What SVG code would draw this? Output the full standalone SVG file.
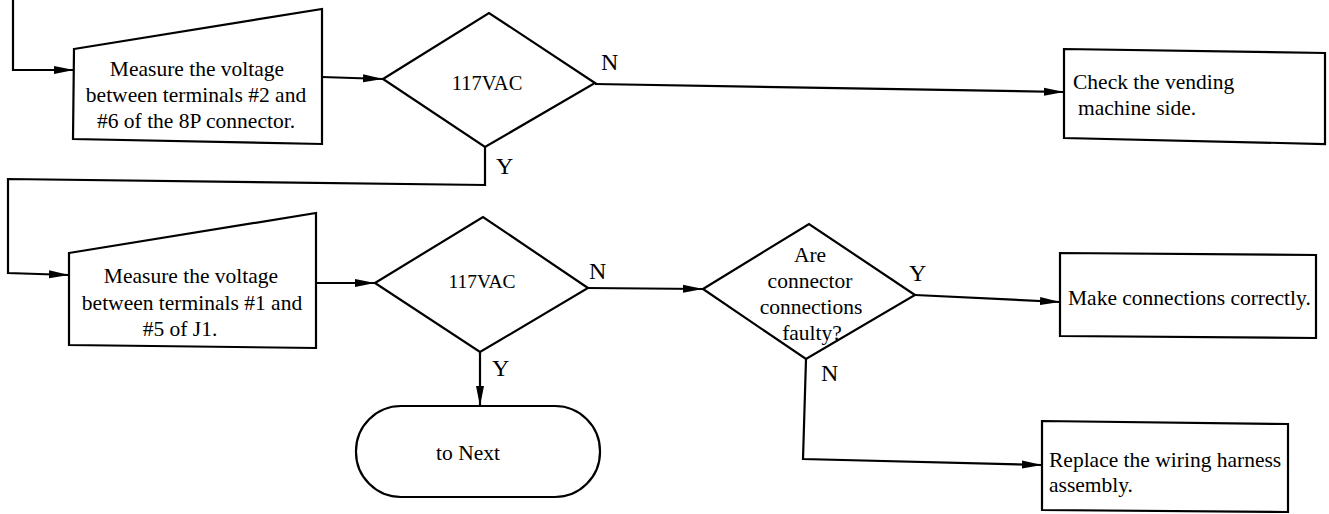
<svg xmlns="http://www.w3.org/2000/svg" width="1329" height="514" viewBox="0 0 1329 514">
<style>
.s{fill:#fff;stroke:#000;stroke-width:2.2}
.c{fill:none;stroke:#000;stroke-width:2.2}
text{font-family:"Liberation Serif","Times New Roman",serif;font-size:21.5px;fill:#000}
.m{text-anchor:middle}
.lb{font-size:24px}
</style>
<defs>
<marker id="ah" markerUnits="userSpaceOnUse" markerWidth="20" markerHeight="10" refX="20" refY="5" orient="auto">
<path d="M0,1 L20,5 L0,9 Z" fill="#000"/>
</marker>
</defs>
<g id="connectors">
<polyline class="c" points="13,0 13,70 74,70" marker-end="url(#ah)"/>
<line class="c" x1="322" y1="77" x2="383" y2="79" marker-end="url(#ah)"/>
<line class="c" x1="595" y1="84" x2="1064" y2="92" marker-end="url(#ah)"/>
<polyline class="c" points="485,147 485,185 8,179 8,273 69,275" marker-end="url(#ah)"/>
<line class="c" x1="316" y1="283" x2="375" y2="283" marker-end="url(#ah)"/>
<line class="c" x1="588" y1="288" x2="703" y2="289" marker-end="url(#ah)"/>
<line class="c" x1="480" y1="352" x2="480" y2="406" marker-end="url(#ah)"/>
<line class="c" x1="915" y1="295" x2="1060" y2="302" marker-end="url(#ah)"/>
<polyline class="c" points="806,359 803,459 1042,465" marker-end="url(#ah)"/>
<text class="lb" x="601" y="70">N</text>
<text class="lb" x="496" y="174">Y</text>
<text class="lb" x="589" y="279">N</text>
<text class="lb" x="492" y="376">Y</text>
<text class="lb" x="909" y="281">Y</text>
<text class="lb" x="821" y="381">N</text>
</g>
<g id="measure1">
<polygon class="s" points="74,49 322,9 322,144 73,139"/>
<text class="m" x="197" y="76">Measure the voltage</text>
<text class="m" x="196" y="102">between terminals #2 and</text>
<text class="m" x="196" y="128">#6 of the 8P connector.</text>
</g>
<g id="dec1">
<polygon class="s" points="383,79 489,13 595,83 485,147"/>
<text class="m" x="487" y="90" style="font-size:20.5px">117VAC</text>
</g>
<g id="check">
<polygon class="s" points="1064,49 1325,53 1325,144 1064,138"/>
<text x="1073" y="89">Check the vending</text>
<text x="1078" y="115">machine side.</text>
</g>
<g id="measure2">
<polygon class="s" points="69,253 316,213 316,348 69,345"/>
<text class="m" x="191" y="283">Measure the voltage</text>
<text class="m" x="192" y="310">between terminals #1 and</text>
<text class="m" x="180" y="336">#5 of J1.</text>
</g>
<g id="dec2">
<polygon class="s" points="375,283 483,217 588,288 480,352"/>
<text class="m" x="482" y="288" style="font-size:19.5px">117VAC</text>
</g>
<g id="dec3">
<polygon class="s" points="703,289 809,224 915,295 806,359"/>
<text class="m" x="810" y="262">Are</text>
<text class="m" x="810" y="288">connector</text>
<text class="m" x="811" y="314">connections</text>
<text class="m" x="812" y="340">faulty?</text>
</g>
<g id="next">
<rect class="s" x="356" y="406" width="244" height="91" rx="45" ry="45"/>
<text class="m" x="468" y="460">to Next</text>
</g>
<g id="make">
<polygon class="s" points="1060,253 1316,255 1316,338 1060,336"/>
<text x="1068" y="305">Make connections correctly.</text>
</g>
<g id="replace">
<polygon class="s" points="1042,421 1288,424 1288,512 1042,510"/>
<text x="1049" y="467">Replace the wiring harness</text>
<text x="1049" y="492">assembly.</text>
</g>
</svg>
